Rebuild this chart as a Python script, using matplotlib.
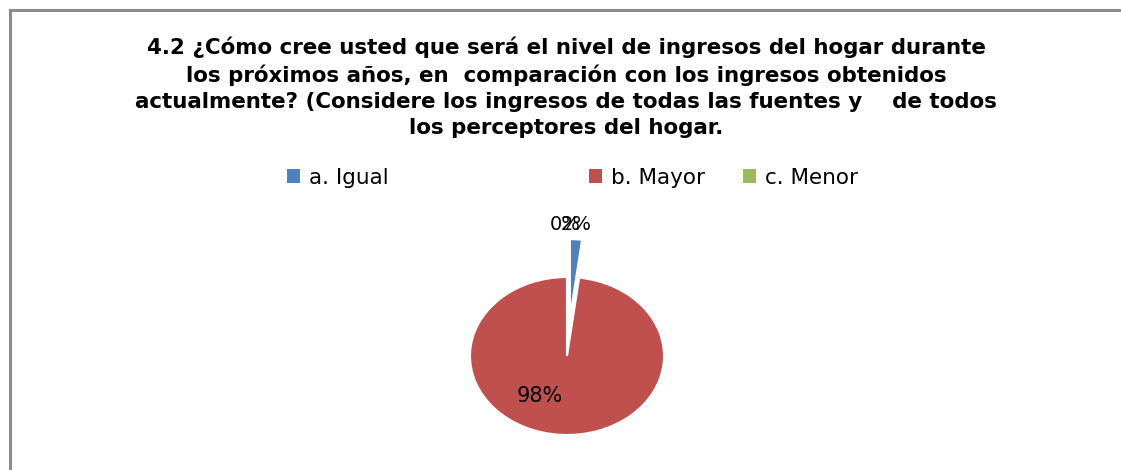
import matplotlib
matplotlib.use("Agg")
import matplotlib.pyplot as plt
from matplotlib.patches import Rectangle, Patch

# ---- data ----
categories = ["a. Igual", "b. Mayor", "c. Menor"]
values = [2, 98, 0]
value_labels = ["2%", "98%", "0%"]
title = ("4.2 ¿Cómo cree usted que será el nivel de ingresos del hogar durante\n"
         "los próximos años, en  comparación con los ingresos obtenidos\n"
         "actualmente? (Considere los ingresos de todas las fuentes y    de todos\n"
         "los perceptores del hogar.")

# ---- style / layout ----
colors = ["#4f81bd", "#c0504d", "#9bbb59"]
explode = [0.48, 0.0, 0.0]
# label positions in pie-radius units (x, y) relative to pie centre
label_pos = [(0.09, 1.67), (-0.28, -0.51), (-0.02, 1.67)]

W, H = 1121, 470
fig = plt.figure(figsize=(W / 100, H / 100), dpi=100)
fig.patch.set_facecolor("white")

# outer frame (extends beyond right & bottom)
fig.patches.append(Rectangle((10 / W, -0.2), 1.2, 1 - 10 / H + 0.2,
                             transform=fig.transFigure, fill=False,
                             edgecolor="#8c8c8c", linewidth=2.2))

fig.text(566 / W, 1 - 87 / H, title, ha="center", va="center",
         fontsize=15.4, fontweight="bold", family="DejaVu Sans",
         linespacing=1.38, color="black")

# pie axes: centre (567, 356) px, rx = 97, ry = 79
cx, cy, rx, ry = 567, 356, 97, 79
L = 1.3
ax = fig.add_axes([(cx - L * rx) / W, (H - cy - L * ry) / H,
                   2 * L * rx / W, 2 * L * ry / H])
wedges, _ = ax.pie(values, colors=colors, explode=explode, startangle=90,
                   counterclock=False, radius=1.0,
                   wedgeprops=dict(edgecolor="white", linewidth=1.5))
ax.set_aspect("auto")
ax.set_xlim(-L, L)
ax.set_ylim(-L, L)
ax.axis("off")

for lab, (lx, ly) in zip(value_labels, label_pos):
    ax.text(lx, ly, lab, ha="center", va="center",
            fontsize=15 if lab == "98%" else 14,
            family="DejaVu Sans", color="black", clip_on=False)

# legend entries (irregular spacing as in reference)
leg_x = [287, 589, 743]
for w, cat, x in zip(wedges, categories, leg_x):
    h = Patch(facecolor=w.get_facecolor(), edgecolor="none")
    fig.legend([h], [cat], loc="center left",
               bbox_to_anchor=(x / W, 1 - 178 / H), frameon=False,
               prop=dict(family="DejaVu Sans", size=15.5),
               handlelength=0.62, handleheight=0.62, handletextpad=0.4,
               borderpad=0, borderaxespad=0)

fig.savefig("out.png", dpi=100, facecolor="white")
